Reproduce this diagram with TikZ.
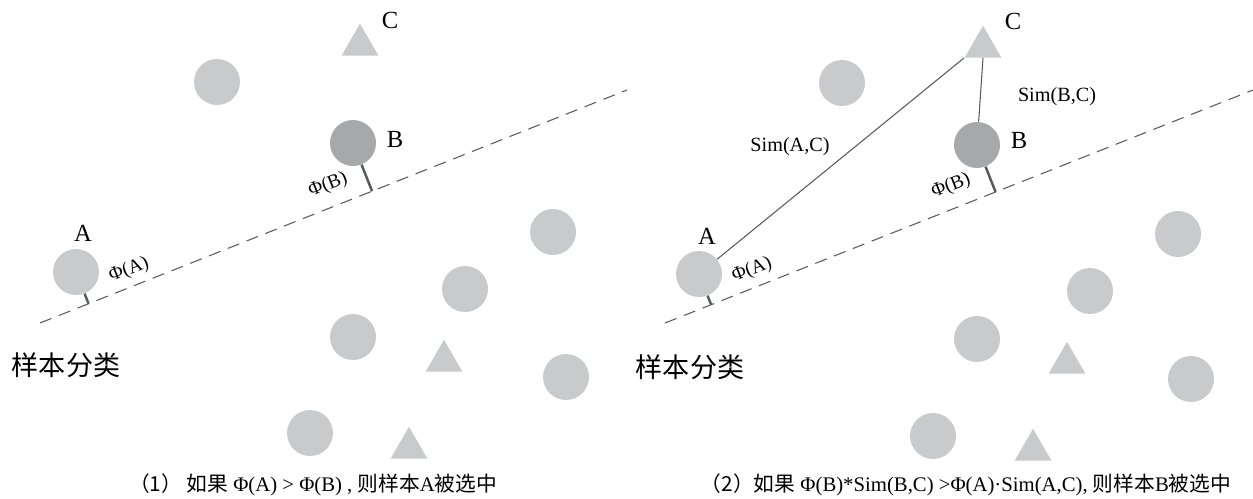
\documentclass[tikz,border=0pt]{standalone}
\usepackage{fontspec}
\setmainfont{Liberation Serif}
\newfontfamily\cjk{Noto Sans CJK SC}
\usetikzlibrary{shapes.geometric,calc}
\definecolor{dotlight}{HTML}{C9CACC}
\definecolor{dotdark}{HTML}{A7A8AA}
\definecolor{inkgray}{HTML}{58595B}

\begin{document}
\begin{tikzpicture}[x=0.02cm,y=-0.02cm,
  dot/.style={circle,fill=dotlight,minimum size=0.92cm,inner sep=0pt},
  chosen/.style={dot,fill=dotdark},
  tri/.style={regular polygon,regular polygon sides=3,fill=dotlight,minimum size=0.85cm,inner sep=0pt},
  sepline/.style={draw=inkgray,line width=0.6pt,dash pattern=on 7pt off 4.5pt},
  tickline/.style={draw=inkgray,line width=1.4pt},
  simline/.style={draw=inkgray,line width=0.6pt},
  lab/.style={font=\fontsize{14}{16}\selectfont},
  philab/.style={font=\fontsize{11}{12}\selectfont,rotate=21.6,inner sep=1pt},
  simlab/.style={font=\fontsize{11.5}{14}\selectfont},
  title/.style={font=\cjk\fontsize{15.4}{18}\selectfont},
  caption/.style={font=\fontsize{11.8}{14}\selectfont}]
\useasboundingbox (0,0) rectangle (1253,499);

% (1) left panel
\coordinate (L1) at (40,323);
\coordinate (L2) at (627,90);
\draw[sepline] (L1) -- (L2);
\node[dot] (A) at (76,272) {};
\node[chosen] (B) at (353,143) {};
\node[tri] (C) at (360,45) {};
\node[lab] at (83,233) {A};
\node[lab] at (395,139) {B};
\node[lab] at (390,20) {C};
\draw[tickline] (A) -- ($(L1)!(A)!(L2)$);
\draw[tickline] (B) -- ($(L1)!(B)!(L2)$);
\node[philab] at (129,270) {Φ(A)};
\node[philab] at (328,185) {Φ(B)};
\node[dot] (d1) at (217,82) {};
\node[dot] (d2) at (553,232) {};
\node[dot] (d3) at (465,289) {};
\node[dot] (d4) at (353,337) {};
\node[dot] (d5) at (566,377) {};
\node[dot] (d6) at (310,433) {};
\node[tri] (t1) at (444,361) {};
\node[tri] (t2) at (409,448) {};
\node[title] at (66,365) {样本分类};
\node[caption] at (313,485) {{\cjk （1） 如果} Φ(A) > Φ(B) , {\cjk 则样本}A{\cjk 被选中}};

% (2) right panel
\coordinate (R1) at (665,323);
\coordinate (R2) at (1253,90);
\draw[sepline] (R1) -- (R2);
\node[dot] (A2) at (699,274) {};
\node[chosen] (B2) at (977,145) {};
\node[tri] (C2) at (983,47) {};
\node[lab] at (707,236) {A};
\node[lab] at (1019,140) {B};
\node[lab] at (1013,21) {C};
\draw[tickline] (A2) -- ($(R1)!(A2)!(R2)$);
\draw[tickline] (B2) -- ($(R1)!(B2)!(R2)$);
\node[philab] at (752,270) {Φ(A)};
\node[philab] at (951,186) {Φ(B)};
\draw[simline] (A2) -- (C2.corner 2);
\draw[simline] (B2) -- (C2.side 2);
\node[simlab] at (790,147) {Sim(A,C)};
\node[simlab] at (1057,97) {Sim(B,C)};
\node[dot] (e1) at (842,83) {};
\node[dot] (e2) at (1178,234) {};
\node[dot] (e3) at (1090,291) {};
\node[dot] (e4) at (977,339) {};
\node[dot] (e5) at (1191,379) {};
\node[dot] (e6) at (933,436) {};
\node[tri] (u1) at (1067,363) {};
\node[tri] (u2) at (1033,450) {};
\node[title] at (690,367) {样本分类};
\node[caption] at (966,485) {{\cjk （2）如果} Φ(B)*Sim(B,C) >Φ(A)·Sim(A,C), {\cjk 则样本}B{\cjk 被选中}};
\end{tikzpicture}
\end{document}
